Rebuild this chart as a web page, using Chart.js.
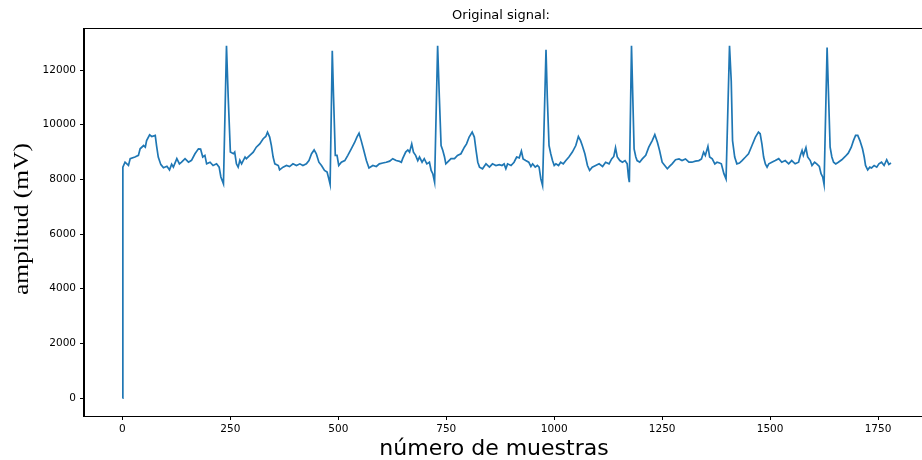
<!DOCTYPE html>
<html>
<head>
<meta charset="utf-8">
<script src="https://cdn.jsdelivr.net/npm/chart.js@4.4.1/dist/chart.umd.min.js"></script>
<style>
  html, body { margin: 0; padding: 0; background: #fff; overflow: hidden; }
  canvas { display: block; }
</style>
</head>
<body>
<canvas id="signalChart" width="940" height="460"></canvas>
<script>
// sample index / amplitude pairs
const sampleIdx = [
  0, 1, 6, 14, 18, 29, 37, 41, 49, 53, 56, 63, 68, 76, 79, 83, 89, 95, 103, 109,
  114, 118, 126, 132, 137, 145, 153, 160, 168, 176, 181, 186, 191, 195, 203, 210, 218, 224, 228, 234,
  241, 245, 250, 257, 260, 264, 268, 272, 276, 280, 284, 287, 295, 303, 310, 318, 326, 332, 336, 341,
  345, 349, 353, 361, 364, 372, 380, 387, 395, 403, 411, 418, 426, 432, 438, 444, 449, 455, 461, 468,
  474, 478, 481, 486, 489, 493, 497, 501, 507, 515, 522, 530, 538, 543, 548, 553, 558, 565, 571, 580,
  588, 595, 603, 611, 619, 626, 634, 642, 646, 649, 656, 661, 665, 670, 674, 679, 684, 688, 694, 699,
  705, 711, 715, 719, 723, 730, 734, 738, 742, 746, 749, 753, 761, 769, 776, 784, 792, 797, 803, 810,
  815, 819, 823, 827, 834, 842, 850, 857, 865, 873, 879, 884, 888, 892, 900, 907, 913, 919, 924, 928,
  934, 941, 946, 950, 956, 961, 965, 969, 973, 981, 984, 988, 992, 996, 1000, 1004, 1010, 1015, 1021, 1027,
  1034, 1042, 1050, 1056, 1061, 1065, 1071, 1077, 1082, 1088, 1096, 1104, 1112, 1119, 1127, 1133, 1138, 1142, 1146, 1152,
  1158, 1164, 1169, 1172, 1174, 1179, 1182, 1185, 1189, 1192, 1198, 1204, 1212, 1219, 1227, 1233, 1239, 1244, 1250, 1256,
  1262, 1267, 1273, 1281, 1289, 1296, 1304, 1312, 1319, 1327, 1335, 1341, 1346, 1350, 1356, 1360, 1366, 1372, 1377, 1383,
  1387, 1393, 1398, 1406, 1410, 1413, 1418, 1423, 1429, 1435, 1443, 1450, 1458, 1466, 1473, 1477, 1481, 1485, 1489, 1493,
  1497, 1504, 1512, 1520, 1527, 1535, 1543, 1550, 1558, 1566, 1570, 1574, 1577, 1583, 1587, 1593, 1597, 1603, 1608, 1614,
  1618, 1622, 1625, 1632, 1635, 1639, 1643, 1647, 1652, 1658, 1666, 1674, 1681, 1688, 1693, 1698, 1703, 1708, 1714, 1718,
  1721, 1726, 1731, 1735, 1741, 1747, 1752, 1758, 1764, 1770, 1775, 1780
];
const amplitude = [
  0, 8450, 8630, 8510, 8760, 8820, 8880, 9120, 9240, 9180, 9420, 9630, 9570, 9610, 9240, 8820, 8540, 8430, 8480, 8350,
  8560, 8450, 8760, 8570, 8630, 8760, 8630, 8700, 8940, 9120, 9110, 8820, 8880, 8570, 8630, 8510, 8570, 8450, 8090, 7840,
  12890, 11000, 9000, 8940, 9000, 8570, 8450, 8700, 8570, 8700, 8820, 8760, 8880, 9000, 9180, 9300, 9490, 9570, 9730, 9550,
  9240, 8820, 8570, 8510, 8350, 8450, 8510, 8470, 8570, 8510, 8570, 8510, 8570, 8690, 8940, 9080, 8940, 8630, 8510, 8330,
  8270, 8020, 7820, 12710, 11000, 8880, 8880, 8510, 8630, 8690, 8880, 9120, 9360, 9550, 9690, 9420, 9120, 8690, 8420, 8510,
  8475, 8570, 8600, 8630, 8670, 8760, 8690, 8660, 8630, 8760, 9000, 9080, 9000, 9300, 9000, 8880, 8690, 8820, 8630, 8760,
  8570, 8630, 8330, 8200, 7900, 12890, 11000, 9240, 9060, 8820, 8570, 8630, 8760, 8760, 8880, 8940, 9180, 9300, 9550, 9730,
  9550, 9060, 8630, 8450, 8390, 8570, 8450, 8570, 8510, 8540, 8510, 8570, 8390, 8570, 8510, 8630, 8820, 8790, 9040, 8750,
  8690, 8630, 8475, 8570, 8450, 8510, 8450, 8020, 7780, 12740, 11000, 9240, 8940, 8690, 8510, 8570, 8510, 8630, 8570, 8690,
  8820, 9000, 9240, 9570, 9420, 9240, 8940, 8510, 8330, 8450, 8510, 8570, 8475, 8630, 8570, 8750, 8840, 9160, 8820, 8690,
  8630, 8690, 8570, 8080, 7900, 12890, 11000, 9120, 8820, 8690, 8630, 8750, 8880, 9180, 9420, 9640, 9360, 9060, 8630, 8510,
  8390, 8475, 8570, 8720, 8750, 8690, 8750, 8630, 8630, 8670, 8690, 8750, 9000, 8880, 9210, 8820, 8750, 8570, 8630, 8600,
  8570, 8210, 8020, 12890, 11600, 9420, 8820, 8570, 8600, 8690, 8820, 8940, 9240, 9550, 9730, 9670, 9300, 8820, 8570, 8450,
  8570, 8630, 8690, 8760, 8630, 8690, 8570, 8690, 8570, 8630, 8880, 9060, 8880, 9160, 8820, 8690, 8510, 8630, 8570, 8475,
  8210, 8080, 7820, 12830, 11250, 9180, 8820, 8630, 8570, 8630, 8720, 8840, 8960, 9180, 9420, 9610, 9610, 9420, 9120, 8820,
  8510, 8350, 8450, 8420, 8510, 8450, 8570, 8630, 8510, 8720, 8550, 8600
];
const xTicks = [0, 250, 500, 750, 1000, 1250, 1500, 1750];
const yTicks = [0, 2000, 4000, 6000, 8000, 10000, 12000];

const titleText = 'Original signal:';
const xLabel = 'número de muestras';
const yLabel = 'amplitud (mV)';

// axes frame + the three texts, placed like the matplotlib figure
const frameAndLabels = {
  id: 'frameAndLabels',
  afterDraw(chart) {
    const { ctx, chartArea: a } = chart;
    ctx.save();
    ctx.strokeStyle = '#000';
    ctx.lineWidth = 1;
    ctx.strokeRect(Math.round(a.left) - 0.5, Math.round(a.top) + 0.5,
      Math.round(a.right - a.left) + 1, Math.round(a.bottom - a.top));

    ctx.fillStyle = '#000';
    ctx.textAlign = 'center';
    ctx.textBaseline = 'middle';
    ctx.font = '13px "DejaVu Sans"';
    ctx.fillText(titleText, 501, 16);

    ctx.font = '22px "DejaVu Sans"';
    ctx.textBaseline = 'alphabetic';
    ctx.fillText(xLabel, 494, 455);

    // y label is drawn long and thin in the reference
    ctx.font = '21px "Liberation Serif"';
    const w = ctx.measureText(yLabel).width;
    ctx.translate(28, 219);
    ctx.rotate(-Math.PI / 2);
    ctx.scale(152 / w, 1);
    ctx.fillText(yLabel, 0, 0);
    ctx.restore();
  }
};

const ctx = document.getElementById('signalChart').getContext('2d');
new Chart(ctx, {
  type: 'line',
  data: {
    datasets: [{
      data: sampleIdx.map((s, i) => ({ x: s, y: amplitude[i] })),
      borderColor: '#1f77b4',
      borderWidth: 1.7,
      pointRadius: 0,
      tension: 0,
      fill: false
    }]
  },
  options: {
    responsive: false,
    animation: false,
    devicePixelRatio: 1,
    layout: { padding: { top: 28, left: 0, right: 11, bottom: 0 } },
    plugins: {
      legend: { display: false },
      tooltip: { enabled: false }
    },
    scales: {
      x: {
        type: 'linear',
        min: -89,
        max: 1868,
        afterFit: s => { s.height = 44; },
        afterBuildTicks: s => { s.ticks = xTicks.map(v => ({ value: v })); },
        grid: { drawOnChartArea: false, drawTicks: true, tickLength: 4, color: '#000' },
        border: { display: true, color: '#000' },
        ticks: {
          color: '#000',
          padding: 3,
          maxRotation: 0,
          font: { family: 'DejaVu Sans', size: 10.5 },
          callback: v => String(v)
        }
      },
      y: {
        type: 'linear',
        min: -655,
        max: 13540,
        afterFit: s => { s.width = 84; },
        afterBuildTicks: s => { s.ticks = yTicks.map(v => ({ value: v })); },
        grid: { drawOnChartArea: false, drawTicks: true, tickLength: 4, color: '#000' },
        border: { display: true, color: '#000' },
        ticks: {
          color: '#000',
          padding: 4,
          font: { family: 'DejaVu Sans', size: 10.5 },
          callback: v => String(v)
        }
      }
    }
  },
  plugins: [frameAndLabels]
});
</script>
</body>
</html>
